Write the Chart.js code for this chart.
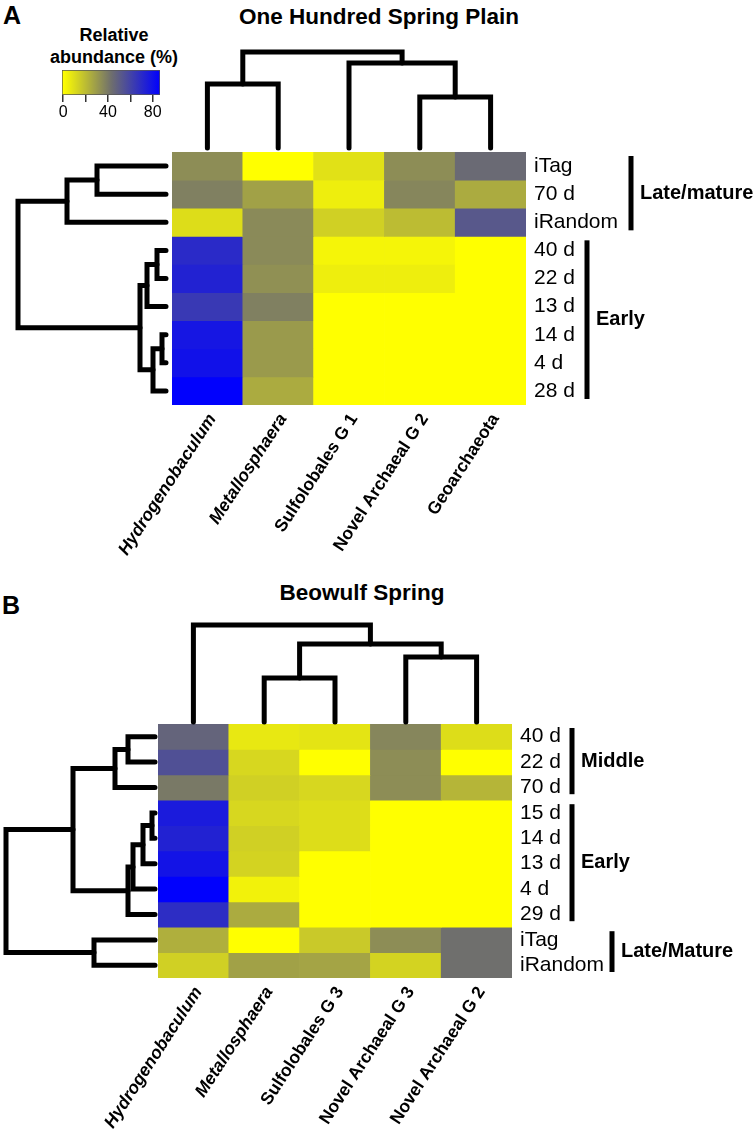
<!DOCTYPE html>
<html>
<head>
<meta charset="utf-8">
<script src="https://cdn.jsdelivr.net/npm/chart.js@4.4.1/dist/chart.umd.min.js"></script>
<style>
  body { margin: 0; background: #fff; }
  #page { position: relative; width: 756px; height: 1133px; overflow: hidden;
          font-family: "Liberation Sans", Arial, sans-serif; color: #000; }
  #page canvas { position: absolute; }
  .txt { position: absolute; font-weight: bold; white-space: nowrap; text-align: center; }
</style>
</head>
<body>
<div id="page"></div>
<script>
// ---- data: panel A (One Hundred Spring Plain) ----
const columnsA = ['Hydrogenobaculum', 'Metallosphaera', 'Sulfolobales G 1', 'Novel Archaeal G 2', 'Geoarchaeota'];
const rowsA = ['iTag', '70 d', 'iRandom', '40 d', '22 d', '13 d', '14 d', '4 d', '28 d'];
const valuesA = [
  [34, 0, 9, 34, 45],
  [38, 28, 5, 36, 25],
  [10, 35, 14, 20, 52],
  [70, 35, 3, 3, 0],
  [73, 33, 5, 5, 0],
  [64, 38, 0, 0, 0],
  [78, 30, 0, 0, 0],
  [80, 30, 0, 0, 0],
  [86, 25, 0, 0, 0]
];
// merges: [child a, child b, height]; leaves are 0..n-1 in display order
const colMergesA = [[0, 1, 64], [3, 4, 51], [2, 6, 85], [5, 7, 96]];
const rowMergesA = [[0, 1, 69], [9, 2, 99], [3, 4, 9], [11, 5, 19], [6, 7, 4], [13, 8, 13], [12, 14, 26], [10, 15, 148]];
const groupNamesA = ['Late/mature', 'Early'];
const groupFromA = [0, 3];
const groupToA = [2, 8];

// ---- data: panel B (Beowulf Spring) ----
const columnsB = ['Hydrogenobaculum', 'Metallosphaera', 'Sulfolobales G 3', 'Novel Archaeal G 3', 'Novel Archaeal G 2'];
const rowsB = ['40 d', '22 d', '70 d', '15 d', '14 d', '13 d', '4 d', '29 d', 'iTag', 'iRandom'];
const valuesB = [
  [47, 7, 8, 36, 10],
  [55, 12, 0, 34, 0],
  [40, 14, 12, 34, 22],
  [76, 12, 10, 0, 0],
  [73, 14, 10, 0, 0],
  [79, 13, 0, 0, 0],
  [86, 4, 0, 0, 0],
  [69, 25, 0, 0, 0],
  [24, 0, 16, 34, 43],
  [14, 28, 27, 13, 43]
];
const colMergesB = [[1, 2, 44], [3, 4, 65], [5, 6, 78], [0, 7, 97]];
const rowMergesB = [[0, 1, 27], [10, 2, 40], [3, 4, 3], [12, 5, 12], [13, 6, 22], [14, 7, 27], [11, 15, 82], [8, 9, 61], [16, 17, 149]];
const groupNamesB = ['Middle', 'Early', 'Late/Mature'];
const groupFromB = [0, 3, 8];
const groupToB = [2, 7, 9];

// ---- colour scale ----
const valueMin = -1;
const valueMax = 86.5;
const colorbarTicks = [0, 20, 40, 60, 80];
const colorbarLabels = [0, 40, 80];
const rampStops = [[255, 255, 0], [110, 110, 110], [0, 0, 255]];
const italicCols = ['Hydrogenobaculum', 'Metallosphaera'];

const FONT = '"Liberation Sans", Arial, sans-serif';
Chart.defaults.font.family = FONT;
Chart.defaults.color = '#000';
Chart.defaults.animation = false;

function colorFor(v) {
  const t = Math.max(0, Math.min(v / valueMax, 1)) * (rampStops.length - 1);
  const i = Math.min(Math.floor(t), rampStops.length - 2);
  const f = t - i;
  const c = rampStops[i].map((a, k) => Math.round(a + (rampStops[i + 1][k] - a) * f));
  return `rgb(${c[0]},${c[1]},${c[2]})`;
}

const page = document.getElementById('page');
function addCanvas(b) {
  const c = document.createElement('canvas');
  c.width = b.w; c.height = b.h;
  c.style.left = b.x + 'px'; c.style.top = b.y + 'px';
  page.appendChild(c);
  return c;
}
function addText(text, cx, cy, size, lineH) {
  const d = document.createElement('div');
  d.className = 'txt';
  d.innerHTML = text;
  d.style.fontSize = size + 'px';
  d.style.lineHeight = lineH + 'px';
  d.style.width = '400px';
  d.style.left = (cx - 200) + 'px';
  const lines = text.split('<br>').length;
  d.style.top = (cy - lines * lineH / 2) + 'px';
  page.appendChild(d);
}

// group bars + labels to the right of the row labels
const groupBrackets = {
  id: 'groupBrackets',
  afterDraw(chart, args, opts) {
    const { ctx, chartArea, scales: { y } } = chart;
    opts.names.forEach((name, i) => {
      const x = chartArea.right + opts.barX[i];
      const y0 = y.getPixelForValue(opts.from[i]) + 4;
      const y1 = y.getPixelForValue(opts.to[i] + 1) - 6;
      ctx.save();
      ctx.fillStyle = '#000';
      ctx.fillRect(x - 2.5, y0, 5, y1 - y0);
      ctx.font = 'bold 20px ' + FONT;
      ctx.textBaseline = 'middle';
      ctx.textAlign = 'left';
      ctx.fillText(name, x + 9, (y0 + y1) / 2);
      ctx.restore();
    });
  }
};

function heatmap(cols, rows, values, groups, L) {
  const pad = { left: 92, top: L.heat.y - L.canvasTop };
  const box = { x: L.heat.x - pad.left, y: L.canvasTop, w: 756 - (L.heat.x - pad.left), h: L.canvasBottom - L.canvasTop };
  const rightW = box.w - pad.left - L.heat.w;
  const bottomH = box.h - pad.top - L.heat.h;
  new Chart(addCanvas(box), {
    type: 'bar',
    data: {
      labels: cols,
      datasets: values.map((row, r) => ({
        data: row.map(() => [r, r + 1]),
        backgroundColor: row.map(colorFor),
        grouped: false,
        barPercentage: 1,
        categoryPercentage: 1,
        borderWidth: 0
      }))
    },
    options: {
      responsive: false,
      events: [],
      layout: { padding: { left: pad.left, top: pad.top, right: 0, bottom: 0 } },
      plugins: {
        legend: { display: false },
        tooltip: { enabled: false },
        groupBrackets: groups
      },
      scales: {
        x: {
          grid: { display: false, drawTicks: false },
          border: { display: false },
          afterFit: s => { s.height = bottomH; },
          ticks: {
            autoSkip: false, minRotation: 57, maxRotation: 57, padding: 5, labelOffset: 5, color: '#000',
            font: c => ({ size: 17.5, weight: 'bold', style: italicCols.includes(cols[c.index]) ? 'italic' : 'normal' })
          }
        },
        y: {
          position: 'right', min: 0, max: rows.length, reverse: true,
          grid: { display: false, drawTicks: false },
          border: { display: false },
          afterFit: s => { s.width = rightW; },
          afterBuildTicks: s => { s.ticks = rows.map((_, i) => ({ value: i + 0.5 })); },
          ticks: { autoSkip: false, padding: 8, color: '#000', font: { size: 21 }, callback: (v, i) => rows[i] }
        }
      }
    },
    plugins: [groupBrackets]
  });
}

function dendroSegments(merges, nLeaves, horizontal) {
  const pos = [], hgt = [];
  for (let i = 0; i < nLeaves; i++) { pos.push(i + 0.5); hgt.push(0); }
  return merges.map(([a, b, h]) => {
    pos.push((pos[a] + pos[b]) / 2);
    hgt.push(h);
    const pts = [[pos[a], hgt[a]], [pos[a], h], [pos[b], h], [pos[b], hgt[b]]];
    return pts.map(([p, d]) => horizontal ? { x: d, y: p } : { x: p, y: d });
  });
}

function dendrogram(merges, nLeaves, side, area) {
  const pad = 10;
  const canvas = addCanvas({ x: area.left - pad, y: area.top - pad, w: area.right - area.left + 2 * pad, h: area.bottom - area.top + 2 * pad });
  const left = side === 'left';
  const hMax = left ? area.right - area.left : area.bottom - area.top;
  const posAxis = { type: 'linear', min: 0, max: nLeaves, display: false };
  const hAxis = { type: 'linear', min: 0, max: hMax, display: false };
  new Chart(canvas, {
    type: 'scatter',
    data: {
      datasets: dendroSegments(merges, nLeaves, left).map(pts => ({
        data: pts, showLine: true, borderColor: '#000', borderWidth: 5, pointRadius: 0,
        clip: false, borderCapStyle: 'round', borderJoinStyle: 'miter', tension: 0
      }))
    },
    options: {
      responsive: false,
      events: [],
      layout: { padding: pad },
      plugins: { legend: { display: false }, tooltip: { enabled: false } },
      scales: left ? { x: { ...hAxis, reverse: true }, y: { ...posAxis, reverse: true } }
                   : { x: posAxis, y: hAxis }
    }
  });
}

// ---- colour bar legend ----
addText('Relative<br>abundance (%)', 114, 46, 18, 22);
new Chart(addCanvas({ x: 40, y: 66, w: 140, h: 60 }), {
  type: 'bar',
  data: {
    labels: [''],
    datasets: [{
      data: [[valueMin, valueMax]],
      backgroundColor: c => {
        const ch = c.chart;
        if (!ch.chartArea) return '#ff0';
        const xs = ch.scales.x;
        const g = ch.ctx.createLinearGradient(xs.getPixelForValue(0), 0, xs.getPixelForValue(valueMax), 0);
        rampStops.forEach((s, i) => g.addColorStop(i / (rampStops.length - 1), `rgb(${s})`));
        return g;
      },
      barPercentage: 1, categoryPercentage: 1, borderWidth: 1, borderColor: '#555', borderSkipped: false
    }]
  },
  options: {
    indexAxis: 'y',
    responsive: false,
    events: [],
    layout: { padding: { left: 22, right: 20, top: 4, bottom: 0 } },
    plugins: { legend: { display: false }, tooltip: { enabled: false } },
    scales: {
      y: { display: false },
      x: {
        min: valueMin, max: valueMax,
        afterBuildTicks: s => { s.ticks = colorbarTicks.map(v => ({ value: v })); },
        afterFit: s => { s.height = 31; },
        grid: { drawOnChartArea: false, tickLength: 7, color: '#333', lineWidth: 1.5 },
        border: { display: false },
        ticks: { padding: 1, color: '#000', font: { size: 16 }, callback: v => colorbarLabels.includes(v) ? v : '' }
      }
    }
  }
});

// ---- panel A ----
addText('A', 12, 15, 25, 28);
addText('One Hundred Spring Plain', 379, 17, 22.5, 26);
heatmap(columnsA, rowsA, valuesA,
  { names: groupNamesA, from: groupFromA, to: groupToA, barX: [105, 61] },
  { heat: { x: 172, y: 152, w: 354, h: 253 }, canvasTop: 130, canvasBottom: 580 });
dendrogram(colMergesA, columnsA.length, 'top', { left: 172, right: 526, top: 40, bottom: 148 });
dendrogram(rowMergesA, rowsA.length, 'left', { left: 10, right: 166, top: 152, bottom: 405 });

// ---- panel B ----
addText('B', 11, 605, 25, 28);
addText('Beowulf Spring', 362, 593, 22.5, 26);
heatmap(columnsB, rowsB, valuesB,
  { names: groupNamesB, from: groupFromB, to: groupToB, barX: [60, 60, 100] },
  { heat: { x: 158, y: 724, w: 354, h: 254 }, canvasTop: 700, canvasBottom: 1133 });
dendrogram(colMergesB, columnsB.length, 'top', { left: 158, right: 512, top: 614, bottom: 722 });
dendrogram(rowMergesB, rowsB.length, 'left', { left: 4, right: 155, top: 724, bottom: 978 });
</script>
</body>
</html>
